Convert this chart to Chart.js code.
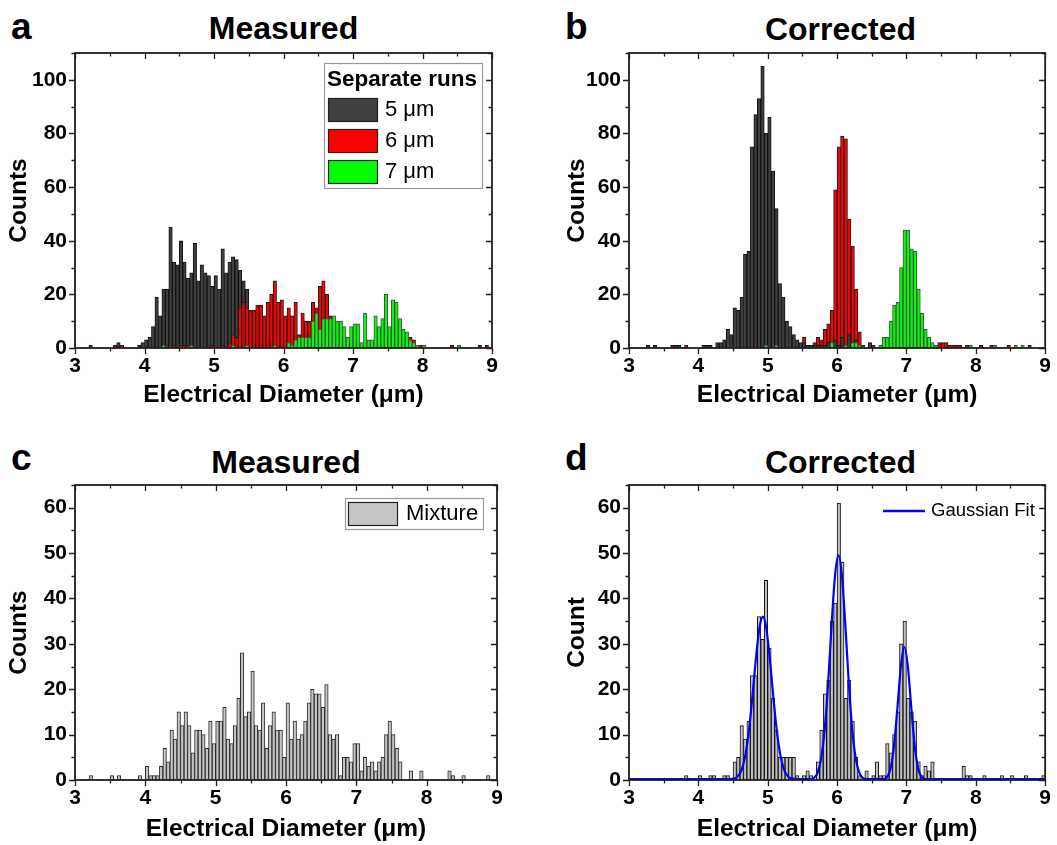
<!DOCTYPE html>
<html lang="en">
<head>
<meta charset="utf-8" />
<title>Electrical diameter histograms</title>
<script src="https://cdn.jsdelivr.net/npm/chart.js@4.4"></script>
<style>
  html,body{margin:0;padding:0;background:#fff;}
  body{width:1057px;height:845px;position:relative;overflow:hidden;font-family:'Liberation Sans',Arial,sans-serif;color:#000;}
  .panel{position:absolute;}
  .letter{position:absolute;font-weight:700;font-size:37px;line-height:36px;}
  .title{position:absolute;font-weight:700;font-size:32px;line-height:32px;text-align:center;white-space:nowrap;}
</style>
</head>
<body>
  <div class="letter" style="left:11px;top:9px">a</div>
  <div class="title" style="left:75px;width:417px;top:12px">Measured</div>
  <div class="letter" style="left:565px;top:9px">b</div>
  <div class="title" style="left:629px;width:423px;top:13px">Corrected</div>
  <div class="letter" style="left:11px;top:440px">c</div>
  <div class="title" style="left:75px;width:422px;top:446px">Measured</div>
  <div class="letter" style="left:565px;top:440px">d</div>
  <div class="title" style="left:629px;width:423px;top:446px">Corrected</div>

  <div class="panel" style="left:0;top:0;width:530px;height:422px"><canvas id="ca"></canvas></div>
  <div class="panel" style="left:530px;top:0;width:527px;height:422px"><canvas id="cb"></canvas></div>
  <div class="panel" style="left:0;top:422px;width:530px;height:423px"><canvas id="cc"></canvas></div>
  <div class="panel" style="left:530px;top:422px;width:527px;height:423px"><canvas id="cd"></canvas></div>

<script>
/***** ---------- Data ---------- *****/
// histogram bins are 0.05 µm wide, 3.00 .. 9.00 µm (120 bins)
const BIN_START=3.0, BIN_WIDTH=0.05;
const xTicks=[3,4,5,6,7,8,9];
const yTicksTop=[0,20,40,60,80,100];
const yTicksBottom=[0,10,20,30,40,50,60];

// (a) measured, separate runs
const run5Measured=[
  0,0,0,0,0,0,0,0,0,0, 0,0,2,0,0,0,0,0,1,2,
  3,4,8,19,12,22,22,45,32,31, 40,32,26,28,39,25,31,28,27,23,
  27,22,37,28,32,34,33,29,25,22, 13,10,8,6,4,3,2,1,1,0,
  0,0,0,0,0,0,0,0,0,0, 0,0,0,0,0,0,0,0,0,0,
  0,0,0,0,0,0,0,0,0,0, 0,0,0,0,0,0,0,0,0,0,
  0,0,0,0,0,0,0,0,0,0, 0,0,0,0,0,0,0,0,0,0];
const run6Measured=[
  0,0,0,0,1,0,0,0,0,0, 0,1,0,1,0,0,0,0,0,0,
  0,0,0,0,0,0,0,0,1,0, 1,1,1,0,0,0,0,0,0,1,
  0,0,1,0,2,5,4,15,17,15, 14,14,16,16,12,17,20,25,17,18,
  12,15,12,17,5,13,10,10,17,15, 23,25,20,12,6,5,4,3,2,2,
  2,1,1,1,1,1,1,1,0,0, 0,0,0,0,0,0,4,3,0,1,
  0,0,0,0,0,0,0,0,1,0, 0,0,0,0,0,0,1,0,1,0];
const run7Measured=[
  0,0,0,0,0,0,0,0,0,0, 0,0,0,0,0,0,0,0,0,0,
  0,0,0,0,0,1,0,0,0,0, 0,0,0,1,0,0,0,0,0,0,
  0,0,0,0,0,1,0,0,0,1, 0,0,0,0,0,0,0,1,0,0,
  0,2,1,3,4,4,4,4,10,13, 7,11,11,11,12,10,10,8,4,8,
  9,9,2,13,3,3,12,8,11,20, 8,18,17,11,7,6,3,2,1,0,
  1,0,0,0,0,0,0,0,0,0, 1,0,0,0,0,0,0,0,0,0];

// (b) corrected, separate runs
const run5Corrected=[
  0,0,0,0,0,1,0,1,0,0, 0,0,0,1,1,0,0,0,0,0,
  0,1,1,1,0,2,2,3,7,5, 15,14,19,35,36,75,87,93,105,80,
  86,66,52,24,19,10,8,5,3,2, 2,1,1,1,1,1,1,2,1,3,
  1,4,1,5,2,3,0,0,0,2, 0,0,0,0,0,0,0,0,0,0,
  0,0,0,0,0,0,0,0,0,0, 0,0,0,0,0,0,0,0,0,0,
  0,0,0,0,0,0,0,0,0,0, 0,0,0,0,0,0,0,0,0,0];
const run6Corrected=[
  0,0,0,0,0,0,0,0,0,0, 0,0,1,1,0,0,1,0,0,0,
  0,0,0,0,0,0,0,0,0,0, 0,0,0,0,0,0,0,0,0,0,
  0,0,0,0,0,0,0,0,0,0, 4,1,1,2,4,3,7,9,14,59,
  75,79,78,48,38,22,6,1,0,0, 1,0,0,0,0,0,0,0,0,0,
  0,0,0,0,0,0,0,0,0,2, 2,2,1,1,1,1,0,1,0,0,
  0,1,0,0,1,0,0,0,0,1, 0,0,0,0,0,1,0,0,0,0];
const run7Corrected=[
  0,0,0,0,0,0,0,0,0,0, 0,0,0,0,0,0,0,0,0,0,
  0,0,0,0,0,0,0,0,0,0, 0,0,0,0,0,0,0,0,0,1,
  0,0,1,0,0,0,0,0,0,0, 0,0,0,0,0,0,0,0,2,0,
  0,0,1,0,2,2,1,0,0,0, 0,0,1,4,4,10,16,17,30,44,
  44,37,36,22,13,7,4,2,1,0, 0,0,0,0,0,0,0,0,1,0,
  0,0,0,0,0,1,0,0,0,0, 0,1,0,1,0,0,0,0,0,0];

// (c) measured mixture
const mixMeasured=[
  0,0,0,0,1,0,0,0,0,0, 1,0,1,0,0,0,0,0,1,0,
  3,1,1,1,3,7,4,11,9,15, 12,15,12,6,11,11,10,7,13,8,
  13,13,16,9,8,12,18,28,14,15, 24,12,11,17,7,12,15,11,11,5,
  17,9,13,9,10,13,17,20,19,19, 16,21,10,9,10,1,5,5,4,8,
  8,2,5,3,4,2,4,5,10,13, 10,7,4,0,0,2,0,0,2,0,
  0,0,0,0,0,0,2,1,0,0, 1,0,0,0,0,0,0,1,0,0];

// (d) corrected mixture + gaussian fit
const mixCorrected=[
  0,0,0,0,0,0,0,0,0,0, 0,0,0,0,0,0,1,0,0,0,
  1,0,0,1,1,0,0,1,1,0, 4,5,12,9,13,23,23,36,31,44,
  29,18,11,5,5,5,5,5,1,0, 1,2,1,0,4,11,19,22,35,39,
  61,48,18,22,13,5,1,0,2,0, 1,4,1,1,8,6,10,15,30,35,
  18,15,13,4,1,3,2,4,0,0, 0,0,0,0,0,0,3,1,1,0,
  0,0,1,0,0,0,0,1,0,0, 1,0,0,0,1,0,0,0,0,1];
const fitX=[3.0,4.43,4.53,4.63,4.68,4.73,4.78,4.83,4.88,4.93,4.98,5.03,5.08,5.13,5.18,5.23,5.28,5.33,5.43,
  5.62,5.67,5.72,5.77,5.82,5.87,5.92,5.97,6.02,6.07,6.12,6.17,6.22,6.27,6.32,6.37,6.42,
  6.67,6.72,6.77,6.82,6.87,6.92,6.97,7.02,7.07,7.12,7.17,7.22,7.27,9.0];
const fitY=[0.2,0.2,0.4,2.5,5.7,11.0,18.5,26.8,33.4,36.0,33.4,26.8,18.5,11.0,5.7,2.5,1.0,0.4,0.2,
  0.2,0.5,1.6,4.7,10.9,21.1,33.9,45.0,49.5,45.0,33.9,21.1,10.9,4.7,1.6,0.5,0.2,
  0.2,0.6,2.5,7.4,15.9,25.1,29.3,25.1,15.9,7.4,2.5,0.6,0.2,0.2];

/***** ---------- Style ---------- *****/
const FONT="'Liberation Sans', Arial, sans-serif";
Chart.defaults.font.family=FONT;
Chart.defaults.color='#000';

const binCenters=run5Measured.map((_,i)=>+(BIN_START+BIN_WIDTH*(i+0.5)).toFixed(3));
const pts=arr=>arr.map((v,i)=>({x:binCenters[i],y:v}));

function bars(label,arr,fill,border,order){
  return {type:'bar',label,data:pts(arr),backgroundColor:fill,borderColor:border,borderWidth:1,
    grouped:false,barPercentage:1,categoryPercentage:1,order};
}

/***** ---------- Plugins ---------- *****/
// box frame with Origin-like ticks (out on bottom/left, in on top/right)
const frame={
  id:'frame',
  afterDatasetsDraw(chart,args,o){
    const {ctx,chartArea:a,scales:{x,y}}=chart;
    ctx.save();
    ctx.strokeStyle='#1e1e1e';ctx.lineWidth=1.8;
    ctx.strokeRect(a.left,a.top,a.right-a.left,a.bottom-a.top);
    ctx.lineWidth=1.3;
    ctx.beginPath();
    const nx=Math.round((x.max-x.min)/o.xMinor);
    for(let i=0;i<=nx;i++){
      const px=Math.round(x.getPixelForValue(x.min+i*o.xMinor))+0.5;
      const len=i%2===0?6:3.5;
      ctx.moveTo(px,a.bottom);ctx.lineTo(px,a.bottom+len);
      ctx.moveTo(px,a.top);ctx.lineTo(px,a.top+len);
    }
    const ny=Math.floor((y.max-y.min)/o.yMinor);
    for(let i=0;i<=ny;i++){
      const py=Math.round(y.getPixelForValue(y.min+i*o.yMinor))+0.5;
      const len=i%2===0?6:3.5;
      ctx.moveTo(a.left,py);ctx.lineTo(a.left-len,py);
      ctx.moveTo(a.right,py);ctx.lineTo(a.right-len,py);
    }
    ctx.stroke();
    ctx.restore();
  }
};

// legend positions (canvas pixels); labels & colours come from the datasets
const LEGENDS={
  ca:{box:[324,63,158,125],title:'Separate runs',titleX:327,titleY:80,font:'22px '+FONT,
      rows:[{ds:0,x:328,y:110,w:50,h:24,tx:385},{ds:1,x:328,y:141,w:50,h:24,tx:385},{ds:2,x:328,y:172,w:50,h:24,tx:385}]},
  cc:{box:[345,76,138,31],font:'22px '+FONT,rows:[{ds:0,x:348,y:92,w:50,h:24,tx:406}]},
  cd:{font:'18.5px '+FONT,rows:[{ds:0,x:353,y:89,w:42,h:0,tx:401}]}
};
const boxLegend={
  id:'boxLegend',
  afterDraw(chart){
    const L=LEGENDS[chart.canvas.id];if(!L)return;
    const ctx=chart.ctx;ctx.save();
    if(L.box){
      const [x,y,w,h]=L.box;
      ctx.fillStyle='#fff';ctx.fillRect(x,y,w,h);
      ctx.strokeStyle='#9a9a9a';ctx.lineWidth=1.2;ctx.strokeRect(x+0.5,y+0.5,w,h);
    }
    ctx.textBaseline='middle';ctx.textAlign='left';
    if(L.title){ctx.fillStyle='#000';ctx.font='bold 22.5px '+FONT;ctx.fillText(L.title,L.titleX,L.titleY);}
    ctx.font=L.font;
    L.rows.forEach(r=>{
      const ds=chart.data.datasets[r.ds];
      if(ds.type==='line'){
        ctx.strokeStyle=ds.borderColor;ctx.lineWidth=2.5;
        ctx.beginPath();ctx.moveTo(r.x,r.y);ctx.lineTo(r.x+r.w,r.y);ctx.stroke();
      }else{
        ctx.fillStyle=ds.backgroundColor;ctx.fillRect(r.x,r.y-r.h/2,r.w,r.h);
        ctx.strokeStyle='#222';ctx.lineWidth=1.2;ctx.strokeRect(r.x+0.5,r.y-r.h/2+0.5,r.w-1,r.h-1);
      }
      ctx.fillStyle='#000';ctx.fillText(ds.label,r.tx,r.y);
    });
    ctx.restore();
  }
};

/***** ---------- Charts ---------- *****/
function options(p){
  return {
    responsive:true,maintainAspectRatio:false,animation:false,
    layout:{padding:{left:0,top:p.top,right:p.right,bottom:0}},
    plugins:{legend:{display:false},tooltip:{enabled:false},frame:{xMinor:0.5,yMinor:p.yMinor}},
    scales:{
      x:{type:'linear',min:3,max:9,offset:false,
        grid:{display:false,drawTicks:false},border:{display:false},
        afterBuildTicks:s=>{s.ticks=xTicks.map(v=>({value:v}));},
        afterFit:s=>{s.height=p.xh;},
        ticks:{autoSkip:false,maxRotation:0,padding:6,font:{size:21,weight:'bold'}},
        title:{display:true,text:'Electrical Diameter (μm)',font:{size:24.5,weight:'bold'},padding:{top:0,bottom:p.xtPad}}},
      y:{type:'linear',min:0,max:p.ymax,
        grid:{display:false,drawTicks:false},border:{display:false},
        afterBuildTicks:s=>{s.ticks=p.yTicks.map(v=>({value:v}));},
        afterFit:s=>{s.width=p.yw;},
        ticks:{autoSkip:false,padding:8,font:{size:21,weight:'bold'}},
        title:{display:true,text:p.ytitle,font:{size:24.5,weight:'bold'},padding:{top:p.ytPad,bottom:0}}}
    }
  };
}

const plugins=[frame,boxLegend];

new Chart(document.getElementById('ca'),{
  type:'bar',
  data:{datasets:[
    bars('5 μm',run5Measured,'#404040','#111',3),
    bars('6 μm',run6Measured,'#ff0000','#1a1a1a',2),
    bars('7 μm',run7Measured,'#00ff00','#4a4a4a',1)]},
  options:options({top:53,right:38,xh:74,yw:75,ymax:110,yTicks:yTicksTop,yMinor:10,xtPad:12,ytPad:5,ytitle:'Counts'}),
  plugins
});

new Chart(document.getElementById('cb'),{
  type:'bar',
  data:{datasets:[
    bars('5 μm',run5Corrected,'#404040','#111',2),
    bars('6 μm',run6Corrected,'#ff0000','#1a1a1a',3),
    bars('7 μm',run7Corrected,'#00ff00','#4a4a4a',1)]},
  options:options({top:53,right:5,xh:74,yw:99,ymax:110,yTicks:yTicksTop,yMinor:10,xtPad:12,ytPad:33,ytitle:'Counts'}),
  plugins
});

new Chart(document.getElementById('cc'),{
  type:'bar',
  data:{datasets:[bars('Mixture',mixMeasured,'#c6c6c6','#2a2a2a',1)]},
  options:options({top:63,right:33,xh:65,yw:75,ymax:65,yTicks:yTicksBottom,yMinor:5,xtPad:1,ytPad:5,ytitle:'Counts'}),
  plugins
});

new Chart(document.getElementById('cd'),{
  type:'bar',
  data:{datasets:[
    {type:'line',label:'Gaussian Fit',data:fitX.map((x,i)=>({x,y:fitY[i]})),borderColor:'#0000ff',borderWidth:2.2,
     pointRadius:0,cubicInterpolationMode:'monotone',fill:false,order:0},
    bars('Corrected',mixCorrected,'#c0c0c0','#111',1)]},
  options:options({top:63,right:5,xh:65,yw:99,ymax:65,yTicks:yTicksBottom,yMinor:5,xtPad:1,ytPad:33,ytitle:'Count'}),
  plugins
});
</script>
</body>
</html>
